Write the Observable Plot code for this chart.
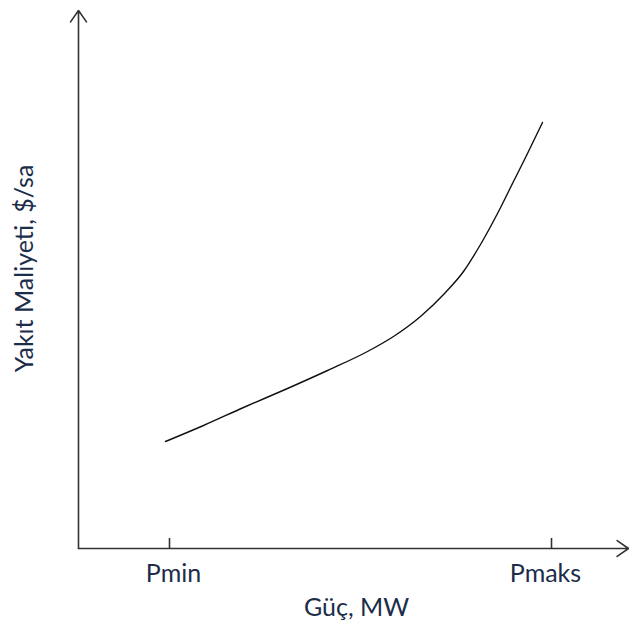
<!DOCTYPE html>
<html>
<head>
<meta charset="utf-8">
<script src="https://cdn.jsdelivr.net/npm/d3@7"></script>
<script src="https://cdn.jsdelivr.net/npm/@observablehq/plot@0.6"></script>
<style>
  html, body { margin: 0; padding: 0; background: #fff; }
  #chart svg { display: block; }
</style>
</head>
<body>
<div id="chart"></div>
<script>
// Abstract units: power P (MW) and cost C ($/sa)
const power = [87, 125, 165, 209, 249, 289, 315, 342, 367, 385, 402, 419, 435, 449, 464];
const cost  = [107, 123, 141, 160, 178, 197, 212, 232, 256, 277, 304, 335, 367, 395, 426];
const tickNames = ["Pmin", "Pmaks"];
const tickValues = [91, 473];
const tickLabelPos = [95, 467];
const axisMaxP = 550;
const axisMaxC = 538;
const xTitle = "Güç, MW";
const yTitle = "Yakıt Maliyeti, $/sa";

const curve = power.map((p, i) => ({p, c: cost[i]}));
const ticks = tickNames.map((name, i) => ({name, v: tickValues[i], lx: tickLabelPos[i]}));
const textColor = "#1c2d4a";
const font = "Lato, 'Open Sans', sans-serif";

const chart = Plot.plot({
  width: 629,
  height: 625,
  margin: 0,
  style: {background: "#fff", fontFamily: font},
  x: {domain: [0, axisMaxP], range: [78, 628], axis: null},
  y: {domain: [0, axisMaxC], range: [548, 10], axis: null},
  marks: [
    Plot.arrow([{x1: 0, y1: 0, x2: axisMaxP, y2: 0}], {
      x1: "x1", y1: "y1", x2: "x2", y2: "y2",
      stroke: "#333", strokeWidth: 1.6, headLength: 13, headAngle: 70
    }),
    Plot.arrow([{x1: 0, y1: 0, x2: 0, y2: axisMaxC}], {
      x1: "x1", y1: "y1", x2: "x2", y2: "y2",
      stroke: "#333", strokeWidth: 1.6, headLength: 13, headAngle: 70
    }),
    Plot.ruleX(ticks, {x: "v", y1: 0, y2: 10, stroke: "#333", strokeWidth: 1.6}),
    Plot.text(ticks, {x: "lx", y: 0, text: "name", dy: 25, fill: textColor, fontSize: 25, fontFamily: font}),
    Plot.line(curve, {x: "p", y: "c", curve: "monotone-x", stroke: "#111", strokeWidth: 1.4}),
    Plot.text([xTitle], {x: 278, y: 0, text: d => d, dy: 59, fill: textColor, fontSize: 25, fontFamily: font}),
    Plot.text([yTitle], {x: 0, y: 280, text: d => d, dx: -54, rotate: -90, fill: textColor, fontSize: 25, fontFamily: font})
  ]
});
document.getElementById("chart").appendChild(chart);
</script>
</body>
</html>
